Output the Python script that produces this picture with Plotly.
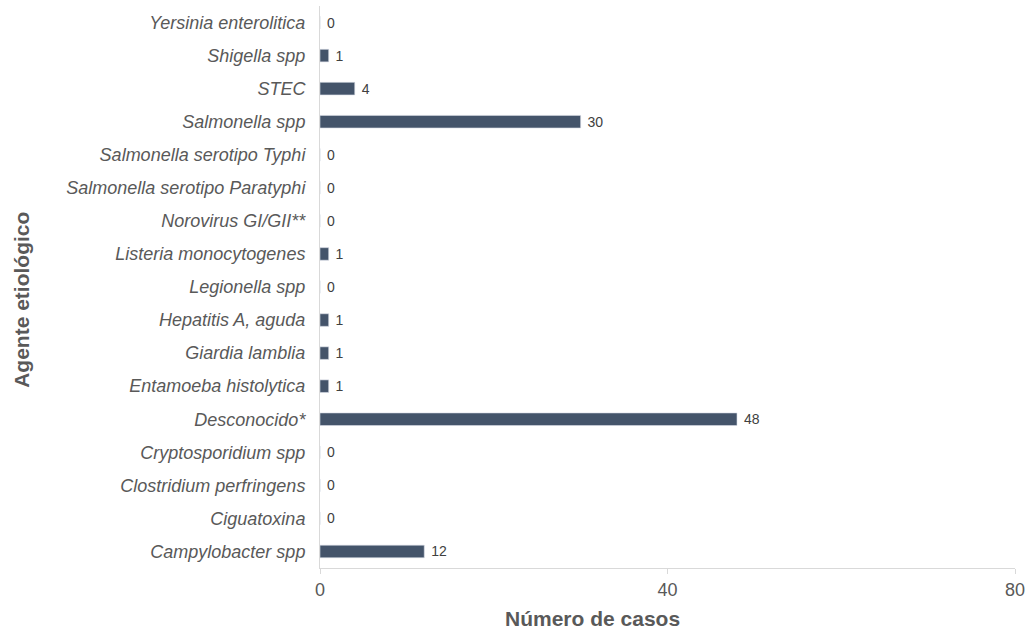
import plotly.graph_objects as go

categories = [
    "Campylobacter spp", "Ciguatoxina", "Clostridium perfringens", "Cryptosporidium spp",
    "Desconocido*", "Entamoeba histolytica", "Giardia lamblia", "Hepatitis A, aguda",
    "Legionella spp", "Listeria monocytogenes", "Norovirus GI/GII**",
    "Salmonella serotipo Paratyphi", "Salmonella serotipo Typhi", "Salmonella spp",
    "STEC", "Shigella spp", "Yersinia enterolitica",
]
values = [12, 0, 0, 0, 48, 1, 1, 1, 0, 1, 0, 0, 0, 30, 4, 1, 0]
x_ticks = [0, 40, 80]

W, H = 1031, 630
L, R, T, B = 320, 14, 6, 62

fig = go.Figure()
fig.add_trace(go.Bar(
    y=categories, x=values, orientation="h",
    marker=dict(color="#44546A", line=dict(color="#D6DCE5", width=0.6)),
    text=["\u00a0" + str(v) for v in values], textposition="outside",
    constraintext="none",
    outsidetextfont=dict(size=14, color="#404040", family="Liberation Sans, Arial"),
    textfont=dict(size=14, color="#404040", family="Liberation Sans, Arial"),
    cliponaxis=False,
))

pw = W - L - R
ph = H - T - B

fig.update_layout(
    width=W, height=H,
    margin=dict(l=L, r=R, t=T, b=B, pad=0),
    plot_bgcolor="white", paper_bgcolor="white",
    bargap=0.62,
    showlegend=False,
    font=dict(family="Liberation Sans, Arial", color="#595959"),
    xaxis=dict(
        range=[0, 80], tickvals=x_ticks, ticktext=[str(t) for t in x_ticks],
        showgrid=False, zeroline=False,
        showline=True, linecolor="#D9D9D9", linewidth=1,
        ticks="outside", ticklen=5, tickcolor="#D9D9D9",
        tickfont=dict(size=18, color="#595959"),
    ),
    yaxis=dict(
        categoryorder="array", categoryarray=categories,
        showgrid=False, zeroline=False,
        showline=True, linecolor="#D9D9D9", linewidth=1,
        ticks="outside", ticklen=10, tickcolor="rgba(0,0,0,0)",
        tickfont=dict(size=18, color="#595959", style="italic"),
    ),
    annotations=[
        dict(text="<b>Número de casos</b>",
             x=(593 - L) / pw, y=(H - B - 618) / ph,
             xref="paper", yref="paper", xanchor="center", yanchor="middle",
             showarrow=False, font=dict(size=21, color="#595959")),
        dict(text="<b>Agente etiológico</b>",
             x=(20 - L) / pw, y=(H - B - 300) / ph,
             xref="paper", yref="paper", xanchor="center", yanchor="middle",
             showarrow=False, textangle=-90, font=dict(size=21, color="#595959")),
    ],
)

fig.write_html("out.html", config={"displayModeBar": False},
               post_script="document.body.style.margin='0';document.body.style.overflow='hidden';")
